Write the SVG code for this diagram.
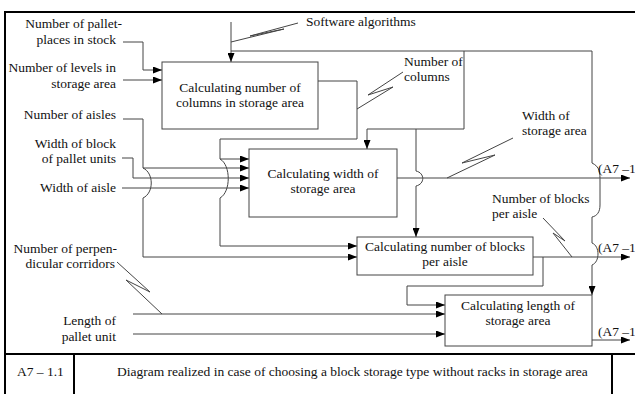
<svg xmlns="http://www.w3.org/2000/svg" width="635" height="394" viewBox="0 0 635 394">
<style>
.t{font-family:"Liberation Serif","Times New Roman",serif;font-size:13.5px;fill:#111}
.e{text-anchor:end}
.m{text-anchor:middle}
.box{fill:#fff;stroke:#444;stroke-width:1}
.c{fill:none;stroke:#444;stroke-width:1}
.a{marker-end:url(#ah)}
.f{fill:none;stroke:#000;stroke-width:2}
</style>
<defs>
<marker id="ah" markerUnits="userSpaceOnUse" markerWidth="9" markerHeight="7" refX="9" refY="3.5" orient="auto">
<path d="M0,0 L9,3.5 L0,7 z" fill="#000"/>
</marker>
</defs>
<rect width="635" height="394" fill="#fff"/>
<g id="frame">
<path class="f" d="M5,394 V12 H635"/>
<path class="f" d="M5,354 H635"/>
<path class="f" d="M74,354 V394 M612,354 V394"/>
<text class="t" x="17" y="376">A7 – 1.1</text>
<text class="t" x="117" y="376">Diagram realized in case of choosing a block storage type without racks in storage area</text>
</g>
<g id="connectors">
<path class="c a" d="M123,42 H143 V70 H162"/>
<path class="c a" d="M123,80 H162"/>
<path class="c a" d="M231,22 V62"/>
<path class="c" d="M231,42 L284,29 L250,36 L298,23"/>
<path class="c a" d="M231,51 H592 V163 C600,167 600,172 600,182 V205 C600,212 597,216 592,217 V243 C600,246 600,262 592,265 V295"/>
<path class="c a" d="M464,51 V129 H367 V149"/>
<path class="c a" d="M416,129 V171 C425,173 425,184 416,186 V237"/>
<path class="c a" d="M318,81 H357 V139 H220 V159 H249"/>
<path class="c a" d="M220,159 C231,165 231,192 220,198 V246 H357"/>
<path class="c" d="M357,109 L393,87 L368,95 L403,72"/>
<path class="c a" d="M123,119 H143 V168 H249"/>
<path class="c a" d="M143,168 C154,173 154,193 143,198 V257 H357"/>
<path class="c a" d="M122,158 H133 V178 H249"/>
<path class="c a" d="M122,188 H249"/>
<path class="c a" d="M397,178 H630"/>
<path class="c" d="M447,178 L495,155 L462,163 L513,138"/>
<path class="c a" d="M533,257 H630"/>
<path class="c" d="M543,218 L565,241 L553,233 L572,257"/>
<path class="c a" d="M543,257 V286 H407 V305 H445"/>
<path class="c a" d="M133,314 H445"/>
<path class="c" d="M117,262 L150,292 L126,280 L162,314"/>
<path class="c a" d="M133,334 H445"/>
<path class="c a" d="M592,340 H630"/>
</g>
<g id="box1">
<rect class="box" x="162" y="62" width="156" height="67"/>
<text class="t m" x="240" y="92">Calculating number of</text>
<text class="t m" x="240" y="107">columns in storage area</text>
</g>
<g id="box2">
<rect class="box" x="249" y="149" width="148" height="68"/>
<text class="t m" x="323" y="178">Calculating width of</text>
<text class="t m" x="323" y="193">storage area</text>
</g>
<g id="box3">
<rect class="box" x="357" y="237" width="176" height="38"/>
<text class="t m" x="445" y="251">Calculating number of blocks</text>
<text class="t m" x="445" y="266">per aisle</text>
</g>
<g id="box4">
<rect class="box" x="445" y="295" width="147" height="51"/>
<text class="t m" x="518" y="310">Calculating length of</text>
<text class="t m" x="518" y="325">storage area</text>
</g>
<g id="labels">
<text class="t e" x="122" y="28">Number of pallet-</text>
<text class="t e" x="116" y="44">places in stock</text>
<text class="t e" x="116" y="72">Number of levels in</text>
<text class="t e" x="116" y="88">storage area</text>
<text class="t e" x="116" y="119">Number of aisles</text>
<text class="t e" x="116" y="148">Width of block</text>
<text class="t e" x="116" y="163">of pallet units</text>
<text class="t e" x="116" y="192">Width of aisle</text>
<text class="t e" x="117" y="253">Number of perpen-</text>
<text class="t e" x="115" y="268">dicular corridors</text>
<text class="t e" x="116" y="325">Length of</text>
<text class="t e" x="116" y="341">pallet unit</text>
<text class="t" x="306" y="26">Software algorithms</text>
<text class="t" x="404" y="66">Number of</text>
<text class="t" x="404" y="81">columns</text>
<text class="t" x="522" y="120">Width of</text>
<text class="t" x="522" y="135">storage area</text>
<text class="t" x="492" y="203">Number of blocks</text>
<text class="t" x="492" y="218">per aisle</text>
<text class="t" x="598" y="173">(A7 –1</text>
<text class="t" x="598" y="252">(A7 –1</text>
<text class="t" x="598" y="336">(A7 –1</text>
</g>
</svg>
